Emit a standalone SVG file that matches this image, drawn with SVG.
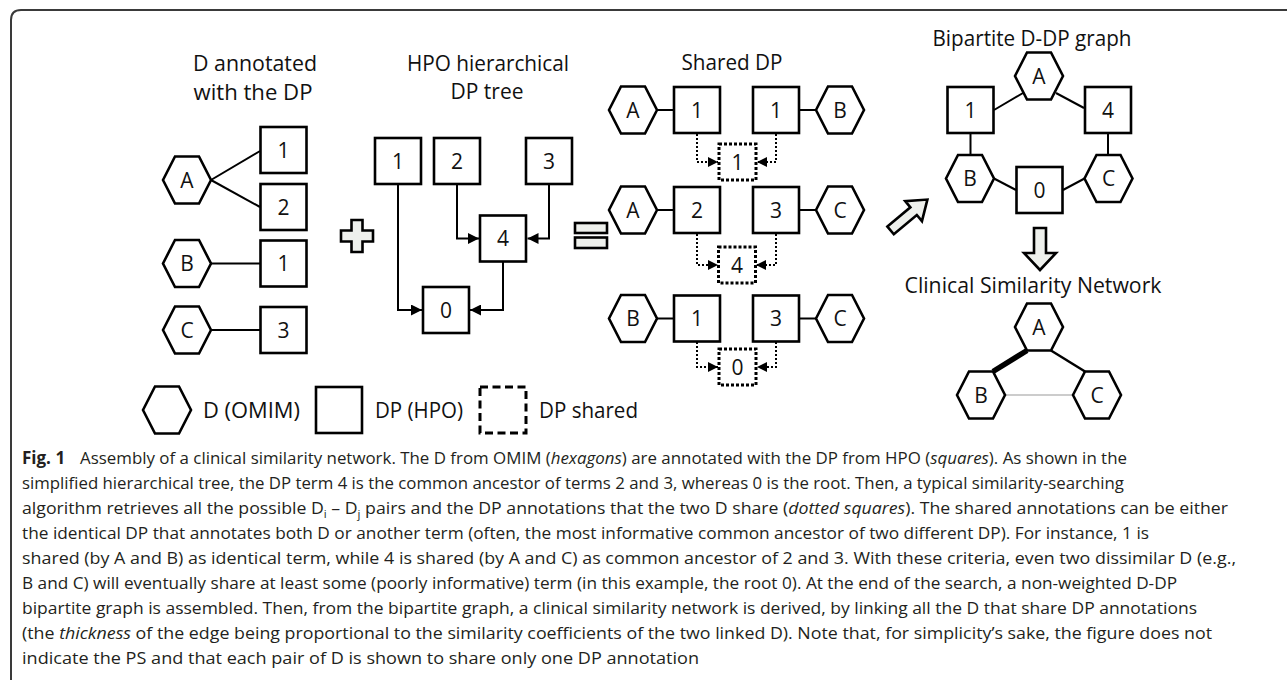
<svg xmlns="http://www.w3.org/2000/svg" xmlns:xlink="http://www.w3.org/1999/xlink" width="1287" height="685" viewBox="0 0 1287 685">
<style>
.sq{fill:#fff;stroke:#000;stroke-width:2.6}
.hx{fill:#fff;stroke:#000;stroke-width:2.6;stroke-linejoin:miter}
.ds{fill:#fff;stroke:#000;stroke-width:3;stroke-dasharray:3 2}
.lg{fill:#fff;stroke:#000;stroke-width:3;stroke-dasharray:8 4.5}
.lbl{font-family:"Open Sans","Noto Sans",sans-serif;font-size:21px;text-anchor:middle;fill:#111}
.ttl{font-family:"Open Sans","Noto Sans",sans-serif;font-size:21px;text-anchor:middle;fill:#111}
.leg{font-family:"Open Sans","Noto Sans",sans-serif;font-size:21px;fill:#111}
.edge{stroke:#000;stroke-width:2;fill:none}
.arr{stroke:#000;stroke-width:2;fill:none;marker-end:url(#ah)}
.darr{stroke:#000;stroke-width:2;stroke-dasharray:2 2;fill:none;marker-end:url(#dh)}
.blk{fill:#eef0ec;stroke:#000;stroke-width:2.6;stroke-linejoin:miter}
.cap{font-family:"Open Sans","Noto Sans",sans-serif;font-size:17px;fill:#231f20}
.it{font-style:italic}
</style>
<defs>
<path id="hex" d="M-24,0 L-12,-23.5 L12,-23.5 L24,0 L12,23.5 L-12,23.5 Z"/>
<marker id="ah" markerUnits="userSpaceOnUse" markerWidth="11" markerHeight="11" refX="11" refY="5.5" orient="auto"><path d="M0,0 L11,5.5 L0,11 Z" fill="#000"/></marker>
<marker id="dh" markerUnits="userSpaceOnUse" markerWidth="10" markerHeight="10" refX="10" refY="5" orient="auto"><path d="M0,0 L10,5 L0,10 Z" fill="#000"/></marker>
</defs>
<rect width="1287" height="685" fill="#fff"/>
<path d="M11,680 V20 Q11,10 21,10 H1287" fill="none" stroke="#3a3a3a" stroke-width="2"/>

<!-- titles -->
<g id="titles">
<text class="ttl" x="255" y="71" textLength="124" lengthAdjust="spacingAndGlyphs">D annotated</text>
<text class="ttl" x="253" y="100" textLength="119" lengthAdjust="spacingAndGlyphs">with the DP</text>
<text class="ttl" x="488" y="71" textLength="162" lengthAdjust="spacingAndGlyphs">HPO hierarchical</text>
<text class="ttl" x="487" y="99" textLength="73" lengthAdjust="spacingAndGlyphs">DP tree</text>
<text class="ttl" x="732" y="70" textLength="101" lengthAdjust="spacingAndGlyphs">Shared DP</text>
<text class="ttl" x="1032" y="46" textLength="199" lengthAdjust="spacingAndGlyphs">Bipartite D-DP graph</text>
<text class="ttl" x="1033" y="293" textLength="257" lengthAdjust="spacingAndGlyphs">Clinical Similarity Network</text>
</g>

<!-- connectors -->
<g id="connectors">
<path class="edge" d="M211,180 L260,151"/>
<path class="edge" d="M211,180 L260,207"/>
<path class="edge" d="M211,263.5 H260"/>
<path class="edge" d="M211,330 H260"/>
<path class="arr" d="M398,184 V310 H422"/>
<path class="arr" d="M457,184 V238.5 H479"/>
<path class="arr" d="M549,184 V238.5 H527.5"/>
<path class="arr" d="M503,261.5 V310 H470"/>
<path class="edge" d="M657,110 H674"/>
<path class="edge" d="M799,110 H816"/>
<path class="edge" d="M657,210 H674"/>
<path class="edge" d="M799,210 H816"/>
<path class="edge" d="M657,318.5 H674"/>
<path class="edge" d="M799,318.5 H816"/>
<path class="darr" d="M697,134 V162 H718"/>
<path class="darr" d="M776,134 V162 H757"/>
<path class="darr" d="M697,234 V265 H718"/>
<path class="darr" d="M776,234 V265 H756"/>
<path class="darr" d="M697,342 V367 H718"/>
<path class="darr" d="M776,342 V367 H757"/>
<path class="edge" d="M1023,93 L994,110"/>
<path class="edge" d="M1056,93 L1084,108"/>
<path class="edge" d="M970.5,133 V155"/>
<path class="edge" d="M1108,133 V155"/>
<path class="edge" d="M994,178.5 L1016,190"/>
<path class="edge" d="M1063,190 L1084.5,178.5"/>
<path d="M1027,350.5 L993,371.5" stroke="#000" stroke-width="5.5" fill="none"/>
<path d="M1051,350.5 L1085,371.5" stroke="#000" stroke-width="2.5" fill="none"/>
<path d="M1005,395 H1073" stroke="#999" stroke-width="1" fill="none"/>
</g>

<!-- symbols -->
<g id="plus"><path class="blk" d="M351.5,220 H362.5 V230.5 H373 V241.5 H362.5 V252 H351.5 V241.5 H341 V230.5 H351.5 Z"/></g>
<g id="equals"><rect class="blk" x="575" y="223" width="32" height="10"/><rect class="blk" x="575" y="237.5" width="32" height="10.5"/></g>
<g id="arrow-diag"><path class="blk" transform="translate(909,215) rotate(-40)" d="M-24,-5 L6,-5 L6,-13 L24,0 L6,13 L6,5 L-24,5 Z"/></g>
<g id="arrow-down"><path class="blk" d="M1034,228 H1046 V253 H1056 L1040,270 L1024,253 H1034 Z"/></g>

<!-- left section -->
<g id="l-A" transform="translate(187,180)"><use href="#hex" class="hx"/><text class="lbl" y="7.5">A</text></g>
<g id="l-1a" transform="translate(283.5,150)"><rect class="sq" x="-23" y="-23" width="46" height="46"/><text class="lbl" y="7.5">1</text></g>
<g id="l-2" transform="translate(283.5,207)"><rect class="sq" x="-23" y="-23" width="46" height="46"/><text class="lbl" y="7.5">2</text></g>
<g id="l-B" transform="translate(187,263.5)"><use href="#hex" class="hx"/><text class="lbl" y="7.5">B</text></g>
<g id="l-1b" transform="translate(283.5,263.5)"><rect class="sq" x="-23" y="-23" width="46" height="46"/><text class="lbl" y="7.5">1</text></g>
<g id="l-C" transform="translate(187,330)"><use href="#hex" class="hx"/><text class="lbl" y="7.5">C</text></g>
<g id="l-3" transform="translate(283.5,330)"><rect class="sq" x="-23" y="-23" width="46" height="46"/><text class="lbl" y="7.5">3</text></g>

<!-- tree -->
<g id="t-1" transform="translate(398,161)"><rect class="sq" x="-23" y="-23" width="46" height="46"/><text class="lbl" y="7.5">1</text></g>
<g id="t-2" transform="translate(457,161)"><rect class="sq" x="-23" y="-23" width="46" height="46"/><text class="lbl" y="7.5">2</text></g>
<g id="t-3" transform="translate(549,161)"><rect class="sq" x="-23" y="-23" width="46" height="46"/><text class="lbl" y="7.5">3</text></g>
<g id="t-4" transform="translate(503,238.5)"><rect class="sq" x="-23" y="-23" width="46" height="46"/><text class="lbl" y="7.5">4</text></g>
<g id="t-0" transform="translate(446,310)"><rect class="sq" x="-23" y="-23" width="46" height="46"/><text class="lbl" y="7.5">0</text></g>

<!-- shared DP -->
<g id="s1-A" transform="translate(633,110)"><use href="#hex" class="hx"/><text class="lbl" y="7.5">A</text></g>
<g id="s1-1a" transform="translate(697,110)"><rect class="sq" x="-23" y="-23" width="46" height="46"/><text class="lbl" y="7.5">1</text></g>
<g id="s1-1b" transform="translate(776,110)"><rect class="sq" x="-23" y="-23" width="46" height="46"/><text class="lbl" y="7.5">1</text></g>
<g id="s1-B" transform="translate(840,110)"><use href="#hex" class="hx"/><text class="lbl" y="7.5">B</text></g>
<g id="s1-sh" transform="translate(737.5,162)"><rect class="ds" x="-18.5" y="-18" width="37" height="36"/><text class="lbl" y="7.5">1</text></g>

<g id="s2-A" transform="translate(633,210)"><use href="#hex" class="hx"/><text class="lbl" y="7.5">A</text></g>
<g id="s2-2" transform="translate(697,210)"><rect class="sq" x="-23" y="-23" width="46" height="46"/><text class="lbl" y="7.5">2</text></g>
<g id="s2-3" transform="translate(776,210)"><rect class="sq" x="-23" y="-23" width="46" height="46"/><text class="lbl" y="7.5">3</text></g>
<g id="s2-C" transform="translate(840,210)"><use href="#hex" class="hx"/><text class="lbl" y="7.5">C</text></g>
<g id="s2-sh" transform="translate(737,265)"><rect class="ds" x="-18.5" y="-18" width="37" height="36"/><text class="lbl" y="7.5">4</text></g>

<g id="s3-B" transform="translate(633,318.5)"><use href="#hex" class="hx"/><text class="lbl" y="7.5">B</text></g>
<g id="s3-1" transform="translate(697,318.5)"><rect class="sq" x="-23" y="-23" width="46" height="46"/><text class="lbl" y="7.5">1</text></g>
<g id="s3-3" transform="translate(776,318.5)"><rect class="sq" x="-23" y="-23" width="46" height="46"/><text class="lbl" y="7.5">3</text></g>
<g id="s3-C" transform="translate(840,318.5)"><use href="#hex" class="hx"/><text class="lbl" y="7.5">C</text></g>
<g id="s3-sh" transform="translate(737.5,367)"><rect class="ds" x="-18.5" y="-18" width="37" height="36"/><text class="lbl" y="7.5">0</text></g>

<!-- bipartite -->
<g id="b-A" transform="translate(1039,76)"><use href="#hex" class="hx"/><text class="lbl" y="7.5">A</text></g>
<g id="b-1" transform="translate(970.5,110)"><rect class="sq" x="-23" y="-23" width="46" height="46"/><text class="lbl" y="7.5">1</text></g>
<g id="b-4" transform="translate(1108,110)"><rect class="sq" x="-23" y="-23" width="46" height="46"/><text class="lbl" y="7.5">4</text></g>
<g id="b-B" transform="translate(970,178.5)"><use href="#hex" class="hx"/><text class="lbl" y="7.5">B</text></g>
<g id="b-C" transform="translate(1108.5,178.5)"><use href="#hex" class="hx"/><text class="lbl" y="7.5">C</text></g>
<g id="b-0" transform="translate(1039.5,190)"><rect class="sq" x="-23" y="-23" width="46" height="46"/><text class="lbl" y="7.5">0</text></g>

<!-- clinical similarity network -->
<g id="c-A" transform="translate(1039,327)"><use href="#hex" class="hx"/><text class="lbl" y="7.5">A</text></g>
<g id="c-B" transform="translate(981,395)"><use href="#hex" class="hx"/><text class="lbl" y="7.5">B</text></g>
<g id="c-C" transform="translate(1097,395)"><use href="#hex" class="hx"/><text class="lbl" y="7.5">C</text></g>

<!-- legend -->
<g id="legend">
<use href="#hex" class="hx" transform="translate(167,410)"/>
<text class="leg" x="203" y="418" textLength="97" lengthAdjust="spacingAndGlyphs">D (OMIM)</text>
<rect class="sq" x="316" y="387" width="46" height="46"/>
<text class="leg" x="375" y="418" textLength="88" lengthAdjust="spacingAndGlyphs">DP (HPO)</text>
<rect class="lg" x="480" y="387" width="46" height="46"/>
<text class="leg" x="539" y="418" textLength="99" lengthAdjust="spacingAndGlyphs">DP shared</text>
</g>

<!-- caption -->
<g id="caption">
<text class="cap" x="22" y="464" font-weight="bold">Fig. 1</text>
<text class="cap" x="80" y="464" textLength="1047" lengthAdjust="spacingAndGlyphs">Assembly of a clinical similarity network. The D from OMIM (<tspan class="it">hexagons</tspan>) are annotated with the DP from HPO (<tspan class="it">squares</tspan>). As shown in the</text>
<text class="cap" x="22" y="489" textLength="1102" lengthAdjust="spacingAndGlyphs">simplified hierarchical tree, the DP term 4 is the common ancestor of terms 2 and 3, whereas 0 is the root. Then, a typical similarity-searching</text>
<text class="cap" x="22" y="514" textLength="1206" lengthAdjust="spacingAndGlyphs">algorithm retrieves all the possible D<tspan font-size="11" dy="4">i</tspan><tspan dy="-4"> – D</tspan><tspan font-size="11" dy="4">j</tspan><tspan dy="-4"> pairs and the DP annotations that the two D share (</tspan><tspan class="it">dotted squares</tspan>). The shared annotations can be either</text>
<text class="cap" x="22" y="539" textLength="1127" lengthAdjust="spacingAndGlyphs">the identical DP that annotates both D or another term (often, the most informative common ancestor of two different DP). For instance, 1 is</text>
<text class="cap" x="22" y="564" textLength="1214" lengthAdjust="spacingAndGlyphs">shared (by A and B) as identical term, while 4 is shared (by A and C) as common ancestor of 2 and 3. With these criteria, even two dissimilar D (e.g.,</text>
<text class="cap" x="22" y="589" textLength="1155" lengthAdjust="spacingAndGlyphs">B and C) will eventually share at least some (poorly informative) term (in this example, the root 0). At the end of the search, a non-weighted D-DP</text>
<text class="cap" x="22" y="614" textLength="1175" lengthAdjust="spacingAndGlyphs">bipartite graph is assembled. Then, from the bipartite graph, a clinical similarity network is derived, by linking all the D that share DP annotations</text>
<text class="cap" x="22" y="639" textLength="1190" lengthAdjust="spacingAndGlyphs">(the <tspan class="it">thickness</tspan> of the edge being proportional to the similarity coefficients of the two linked D). Note that, for simplicity’s sake, the figure does not</text>
<text class="cap" x="22" y="664" textLength="677" lengthAdjust="spacingAndGlyphs">indicate the PS and that each pair of D is shown to share only one DP annotation</text>
</g>
</svg>
